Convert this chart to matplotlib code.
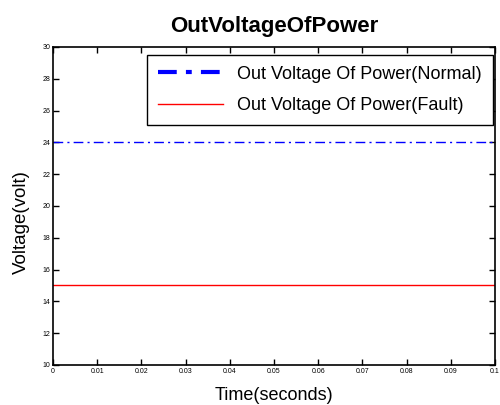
import matplotlib
matplotlib.use("Agg")
import matplotlib.pyplot as plt
import numpy as np

plt.rcParams['font.family'] = ['Liberation Sans', 'DejaVu Sans']

time = [0.0, 0.1]
normal_voltage = [24, 24]
fault_voltage = [15, 15]
xticks = [0, 0.01, 0.02, 0.03, 0.04, 0.05, 0.06, 0.07, 0.08, 0.09, 0.1]
xticklabels = ['0', '0.01', '0.02', '0.03', '0.04', '0.05', '0.06', '0.07', '0.08', '0.09', '0.1']
yticks = [10, 12, 14, 16, 18, 20, 22, 24, 26, 28, 30]

fig = plt.figure(figsize=(5.0, 4.05), dpi=100)
ax = fig.add_axes([0.106, 0.099, 0.884, 0.785])

l1, = ax.plot(time, normal_voltage, color='blue', linestyle='-.', linewidth=1,
              label='Out Voltage Of Power(Normal)')
l1.set_dashes([7, 3, 1.5, 3])
ax.plot(time, fault_voltage, color='red', linestyle='-', linewidth=1,
        label='Out Voltage Of Power(Fault)')

ax.set_xlim(0, 0.1)
ax.set_ylim(10, 30)
ax.set_xticks(xticks)
ax.set_xticklabels(xticklabels)
ax.set_yticks(yticks)
ax.tick_params(direction='in', top=True, right=True, labelsize=5, length=4, width=1, pad=2)
for s in ax.spines.values():
    s.set_linewidth(1.2)

ax.set_xlabel('Time(seconds)', fontsize=13)
ax.xaxis.set_label_coords(0.5, -0.068)
ax.set_ylabel('Voltage(volt)', fontsize=13.5)
ax.yaxis.set_label_coords(-0.053, 0.45)
ax.set_title('OutVoltageOfPower', fontsize=16, fontweight='bold', pad=11)

leg = ax.legend(loc='upper right', bbox_to_anchor=(0.995, 0.975), fontsize=13,
                frameon=True, fancybox=False, edgecolor='black', framealpha=1,
                borderpad=0.6, labelspacing=0.8, handlelength=3.6,
                handletextpad=0.8, borderaxespad=0)
leg.get_frame().set_linewidth(1)
h0 = leg.legend_handles[0]
h0.set_linewidth(3)
h0.set_dashes([4.5, 2.2, 1.4, 2.2])

fig.savefig('out.png', dpi=100)
